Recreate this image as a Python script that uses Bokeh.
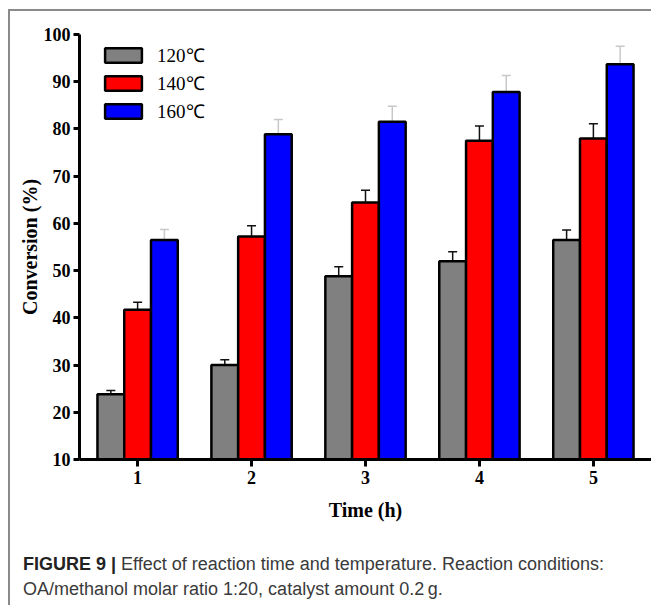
import numpy as np
from bokeh.plotting import figure
from bokeh.models import (ColumnDataSource, Whisker, TeeHead, Legend, LegendItem,
                          FixedTicker, Div)
from bokeh.layouts import column
from bokeh.embed import file_html
from bokeh.resources import INLINE

# ---- data ----
times = [1, 2, 3, 4, 5]
series_names = ["120℃", "140℃", "160℃"]
conv_120 = [23.8, 30.0, 48.8, 52.0, 56.5]
err_120 = [0.8, 1.1, 2.0, 2.0, 2.1]
conv_140 = [41.7, 57.2, 64.4, 77.5, 78.0]
err_140 = [1.6, 2.3, 2.6, 3.1, 3.1]
conv_160 = [56.5, 78.9, 81.5, 87.8, 93.7]
err_160 = [2.2, 3.1, 3.3, 3.5, 3.8]
y_ticks = [10, 20, 30, 40, 50, 60, 70, 80, 90, 100]

colors = ["#808080", "#ff0000", "#0000ff"]
err_colors = ["#111111", "#111111", "#c8c8c8"]
offsets = [-0.235, 0.0, 0.235]
bar_w = 0.235

SERIF = "Liberation Serif"

p = figure(width=641, height=519, x_range=(0.49, 5.51), y_range=(10, 100),
           output_backend="svg", toolbar_location=None,
           min_border_left=69, min_border_right=0, min_border_top=23,
           min_border_bottom=71)
p.outline_line_color = None
p.xgrid.grid_line_color = None
p.ygrid.grid_line_color = None
p.background_fill_color = "white"
p.border_fill_color = "white"

renderers = []
for vals, errs, col, ecol, off in zip([conv_120, conv_140, conv_160],
                                      [err_120, err_140, err_160],
                                      colors, err_colors, offsets):
    x = np.array(times, dtype=float) + off
    v = np.array(vals)
    e = np.array(errs)
    src = ColumnDataSource(dict(x=x, top=v, upper=v + e, lower=v - e))
    r = p.vbar(x="x", top="top", bottom=10, width=bar_w, source=src,
               fill_color=col, line_color="black", line_width=2.5)
    renderers.append(r)
    w = Whisker(base="x", upper="upper", lower="lower", source=src,
                line_color=ecol, line_width=1.5,
                upper_head=TeeHead(size=9, line_color=ecol, line_width=1.5),
                lower_head=TeeHead(size=9, line_color=ecol, line_width=1.5))
    p.add_layout(w)

legend = Legend(items=[LegendItem(label=n, renderers=[r]) for n, r in zip(series_names, renderers)],
                location=(21, 335), padding=0, margin=0, spacing=2,
                glyph_width=46, glyph_height=18, label_height=18,
                label_standoff=11, label_text_font=SERIF,
                label_text_font_size="19px", label_text_color="black",
                border_line_color=None, background_fill_alpha=0)
p.add_layout(legend)

p.xaxis.ticker = FixedTicker(ticks=times)
p.yaxis.ticker = FixedTicker(ticks=y_ticks)
for ax in (p.xaxis, p.yaxis):
    ax.axis_line_width = 3
    ax.axis_line_color = "black"
    ax.major_tick_line_width = 3
    ax.major_tick_line_color = "black"
    ax.major_tick_in = 0
    ax.minor_tick_line_color = None
    ax.major_label_text_font = SERIF
    ax.major_label_text_font_style = "bold"
    ax.major_label_text_font_size = "18px"
    ax.major_label_text_color = "black"
    ax.axis_label_text_font = SERIF
    ax.axis_label_text_font_style = "bold"
    ax.axis_label_text_font_size = "20px"
    ax.axis_label_text_color = "black"

p.xaxis.major_tick_out = 7
p.xaxis.major_label_standoff = 4
p.xaxis.axis_label = "Time (h)"
p.xaxis.axis_label_standoff = 12
p.yaxis.major_tick_out = 6
p.yaxis.major_label_standoff = 3
p.yaxis.axis_label = "Conversion (%)"
p.yaxis.axis_label_standoff = 0

cap = Div(text='<b style="color:#222">FIGURE 9 |</b> Effect of reaction time and temperature. '
               'Reaction conditions:<br>OA/methanol molar ratio 1:20, catalyst amount 0.2\u2009g.',
          width=641, height=75,
          styles={"font-family": "'Liberation Sans', Arial, sans-serif",
                  "font-size": "18px", "line-height": "25px", "color": "#3a3a3a",
                  "padding-left": "8px", "padding-top": "17px",
                  "box-sizing": "border-box", "background": "white",
                  "white-space": "nowrap"})

layout = column(p, cap, spacing=0, margin=(9, 0, 0, 8),
                styles={"border-top": "2px solid #8a8a8a",
                        "border-left": "2px solid #8a8a8a",
                        "background": "white"})

open("out.html", "w").write(file_html(layout, INLINE))
